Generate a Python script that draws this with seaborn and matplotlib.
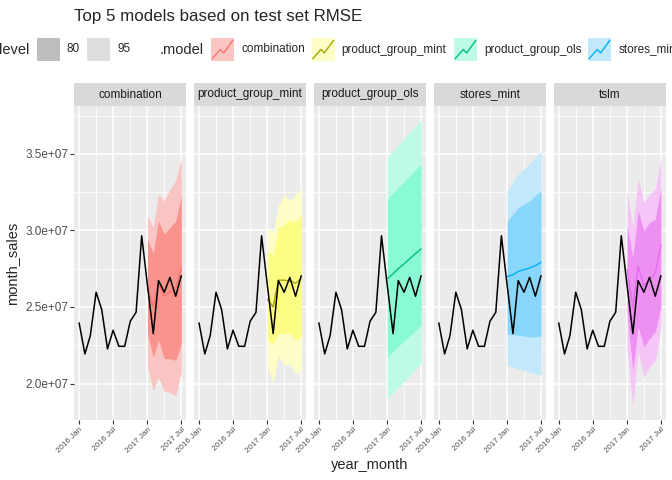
import pandas as pd
import matplotlib
matplotlib.use("Agg")
import matplotlib.pyplot as plt
import matplotlib.dates as mdates
from matplotlib.patches import Rectangle
from matplotlib.lines import Line2D
from matplotlib.ticker import FuncFormatter, FixedLocator
import seaborn as sns

# monthly sales, Jan 2016 - Jul 2017 (history + test period)
months = pd.date_range("2016-01-01", "2017-07-01", freq="MS")
month_sales = [2.396e7, 2.193e7, 2.313e7, 2.596e7, 2.483e7, 2.226e7, 2.348e7,
               2.243e7, 2.243e7, 2.407e7, 2.465e7, 2.965e7, 2.64e7, 2.326e7,
               2.672e7, 2.596e7, 2.693e7, 2.57e7, 2.704e7]

# forecasts for the test months, Jan 2017 - Jul 2017
fc_months = months[12:]
models = ["combination", "product_group_mint", "product_group_ols", "stores_mint", "tslm"]

mean_fc = {
    "combination":        [2.62e7, 2.50e7, 2.655e7, 2.57e7, 2.60e7, 2.615e7, 2.755e7],
    "product_group_mint": [2.55e7, 2.50e7, 2.675e7, 2.675e7, 2.67e7, 2.655e7, 2.685e7],
    "product_group_ols":  [2.684e7, 2.717e7, 2.75e7, 2.782e7, 2.815e7, 2.848e7, 2.88e7],
    "stores_mint":        [2.699e7, 2.71e7, 2.732e7, 2.743e7, 2.754e7, 2.77e7, 2.792e7],
    "tslm":               [2.745e7, 2.50e7, 2.765e7, 2.64e7, 2.68e7, 2.72e7, 2.905e7],
}
hi80 = {
    "combination":        [2.94e7, 2.853e7, 3.061e7, 2.974e7, 3.018e7, 3.061e7, 3.226e7],
    "product_group_mint": [2.86e7, 2.84e7, 3.018e7, 3.039e7, 3.072e7, 3.051e7, 3.105e7],
    "product_group_ols":  [3.204e7, 3.242e7, 3.28e7, 3.319e7, 3.357e7, 3.396e7, 3.434e7],
    "stores_mint":        [3.061e7, 3.105e7, 3.149e7, 3.171e7, 3.193e7, 3.226e7, 3.259e7],
    "tslm":               [3.028e7, 2.82e7, 3.127e7, 2.995e7, 3.051e7, 3.072e7, 3.27e7],
}
lo80 = {
    "combination":        [2.327e7, 2.173e7, 2.283e7, 2.162e7, 2.162e7, 2.151e7, 2.261e7],
    "product_group_mint": [2.283e7, 2.261e7, 2.327e7, 2.327e7, 2.327e7, 2.283e7, 2.305e7],
    "product_group_ols":  [2.173e7, 2.208e7, 2.243e7, 2.278e7, 2.312e7, 2.347e7, 2.382e7],
    "stores_mint":        [2.32e7, 2.32e7, 2.315e7, 2.31e7, 2.305e7, 2.305e7, 2.31e7],
    "tslm":               [2.459e7, 2.086e7, 2.37e7, 2.239e7, 2.294e7, 2.338e7, 2.502e7],
}
hi95 = {
    "combination":        [3.094e7, 3.02e7, 3.237e7, 3.193e7, 3.27e7, 3.324e7, 3.467e7],
    "product_group_mint": [3.018e7, 2.985e7, 3.16e7, 3.237e7, 3.193e7, 3.237e7, 3.27e7],
    "product_group_ols":  [3.478e7, 3.518e7, 3.558e7, 3.598e7, 3.639e7, 3.679e7, 3.719e7],
    "stores_mint":        [3.259e7, 3.314e7, 3.368e7, 3.401e7, 3.434e7, 3.478e7, 3.515e7],
    "tslm":               [3.248e7, 3.018e7, 3.336e7, 3.182e7, 3.237e7, 3.27e7, 3.467e7],
}
lo95 = {
    "combination":        [2.107e7, 1.954e7, 2.041e7, 1.949e7, 1.943e7, 1.921e7, 2.074e7],
    "product_group_mint": [2.107e7, 2.009e7, 2.184e7, 2.118e7, 2.129e7, 2.064e7, 2.086e7],
    "product_group_ols":  [1.90e7, 1.938e7, 1.977e7, 2.015e7, 2.053e7, 2.092e7, 2.13e7],
    "stores_mint":        [2.118e7, 2.107e7, 2.097e7, 2.086e7, 2.075e7, 2.064e7, 2.053e7],
    "tslm":               [2.217e7, 1.855e7, 2.217e7, 2.042e7, 2.107e7, 2.151e7, 2.37e7],
}

line_col = {"combination": "#F8766D", "product_group_mint": "#A3A500",
            "product_group_ols": "#00BF7D", "stores_mint": "#00B0F6", "tslm": "#E76BF3"}
fill80 = {"combination": "#F8938D", "product_group_mint": "#FDFD86",
          "product_group_ols": "#8AFAD2", "stores_mint": "#88D6FA", "tslm": "#EE8FF2"}
fill95 = {"combination": "#F9C5C2", "product_group_mint": "#FDFDC6",
          "product_group_ols": "#BDFBE5", "stores_mint": "#C2E9FB", "tslm": "#F4C5F6"}

sns.set_theme(style="darkgrid", rc={"axes.facecolor": "#EBEBEB", "grid.color": "white"})
plt.rcParams["font.family"] = ["Liberation Sans", "DejaVu Sans"]

W, H = 672, 480
fig, axes = plt.subplots(1, 5, figsize=(W / 100, H / 100), dpi=100, sharey=True)
fig.subplots_adjust(left=74 / W, right=666 / W, top=1 - 106 / H, bottom=1 - 420 / H,
                    wspace=7.5 / 112.4)

x0, x1 = mdates.date2num(months[0]), mdates.date2num(months[-1])
xspan = x1 - x0
all_lo = [min(month_sales)] + [min(v) for v in lo95.values()]
all_hi = [max(month_sales)] + [max(v) for v in hi95.values()]
ymin, ymax = min(all_lo), max(all_hi)
yspan = ymax - ymin

major_x = pd.to_datetime(["2016-01-01", "2016-07-01", "2017-01-01", "2017-07-01"])
minor_x = pd.to_datetime(["2016-04-01", "2016-10-01", "2017-04-01"])
strip_h = 23 / 314

for ax, m in zip(axes, models):
    ax.fill_between(fc_months, lo95[m], hi95[m], color=fill95[m], lw=0)
    ax.fill_between(fc_months, lo80[m], hi80[m], color=fill80[m], lw=0)
    sns.lineplot(x=fc_months, y=mean_fc[m], ax=ax, color=line_col[m], lw=1.0)
    sns.lineplot(x=months, y=month_sales, ax=ax, color="black", lw=1.1)

    ax.set_xlim(x0 - 0.05 * xspan, x1 + 0.05 * xspan)
    ax.set_ylim(ymin - 0.05 * yspan, ymax + 0.05 * yspan)
    ax.set_xlabel("")
    ax.set_ylabel("")

    ax.set_xticks(mdates.date2num(major_x))
    ax.set_xticklabels([d.strftime("%Y %b") for d in major_x], rotation=45,
                       ha="right", va="top", rotation_mode="anchor")
    ax.xaxis.set_minor_locator(FixedLocator(mdates.date2num(minor_x)))
    ax.set_yticks([2.0e7, 2.5e7, 3.0e7, 3.5e7])
    ax.yaxis.set_minor_locator(FixedLocator([1.75e7, 2.25e7, 2.75e7, 3.25e7, 3.75e7]))
    ax.yaxis.set_major_formatter(FuncFormatter(lambda v, p: "%.1e" % v))

    ax.grid(which="major", color="white", lw=1.1)
    ax.grid(which="minor", color="white", lw=0.55)
    ax.set_axisbelow(True)
    for s in ax.spines.values():
        s.set_visible(False)
    ax.tick_params(axis="x", which="major", length=2.7, width=0.8, color="#333333",
                   labelsize=5.8, labelcolor="#4D4D4D", pad=1.5, bottom=True)
    ax.tick_params(axis="y", which="major", length=2.7, width=0.8, color="#333333",
                   labelsize=8.45, labelcolor="#4D4D4D", pad=1.5, left=True)
    ax.tick_params(which="minor", length=0)

    ax.add_patch(Rectangle((0, 1), 1, strip_h, transform=ax.transAxes, clip_on=False,
                           facecolor="#D9D9D9", lw=0))
    ax.text(0.5, 1 + strip_h / 2, m, transform=ax.transAxes, ha="center", va="center",
            fontsize=8.45, color="#1A1A1A")

for ax in axes[1:]:
    ax.tick_params(axis="y", left=False)


def fx(px):
    return px / W


def fy(py):
    return 1 - py / H


fig.text(fx(74), fy(21), "Top 5 models based on test set RMSE", fontsize=12.2,
         ha="left", va="baseline")
fig.text(fx(370), fy(465), "year_month", fontsize=10.56, ha="center", va="center")
fig.text(fx(12), fy(263), "month_sales", fontsize=10.56, ha="center", va="center",
         rotation=90)

# legend row along the top
ly = 49.5
key_w, key_h = 23, 23


def key_box(px, colour):
    fig.add_artist(Rectangle((fx(px), fy(ly + key_h / 2)), key_w / W, key_h / H,
                             transform=fig.transFigure, facecolor=colour, lw=0))


def key_label(px, text, size=8.45):
    fig.text(fx(px), fy(ly), text, fontsize=size, ha="left", va="center")


fig.text(fx(29), fy(ly), "level", fontsize=10.56, ha="right", va="center")
key_box(36.7, "#BEBEBE")
key_label(66.7, "80")
key_box(87.3, "#DEDEDE")
key_label(117, "95")
key_label(160, ".model", 10.56)

model_keys = [211, 311.7, 454, 588, 710]
model_texts = [242, 341.6, 484, 619, 741]
for m, kx, tx in zip(models, model_keys, model_texts):
    key_box(kx, fill95[m])
    xs = [kx + key_w * f for f in (0.05, 0.4, 0.55, 0.95)]
    ys = [ly + key_h / 2 - key_h * f for f in (0.1, 0.5, 0.35, 0.9)]
    fig.add_artist(Line2D([fx(v) for v in xs], [fy(v) for v in ys],
                          transform=fig.transFigure, color=line_col[m], lw=1.0))
    key_label(tx, m)

fig.savefig("out.png", dpi=100)
